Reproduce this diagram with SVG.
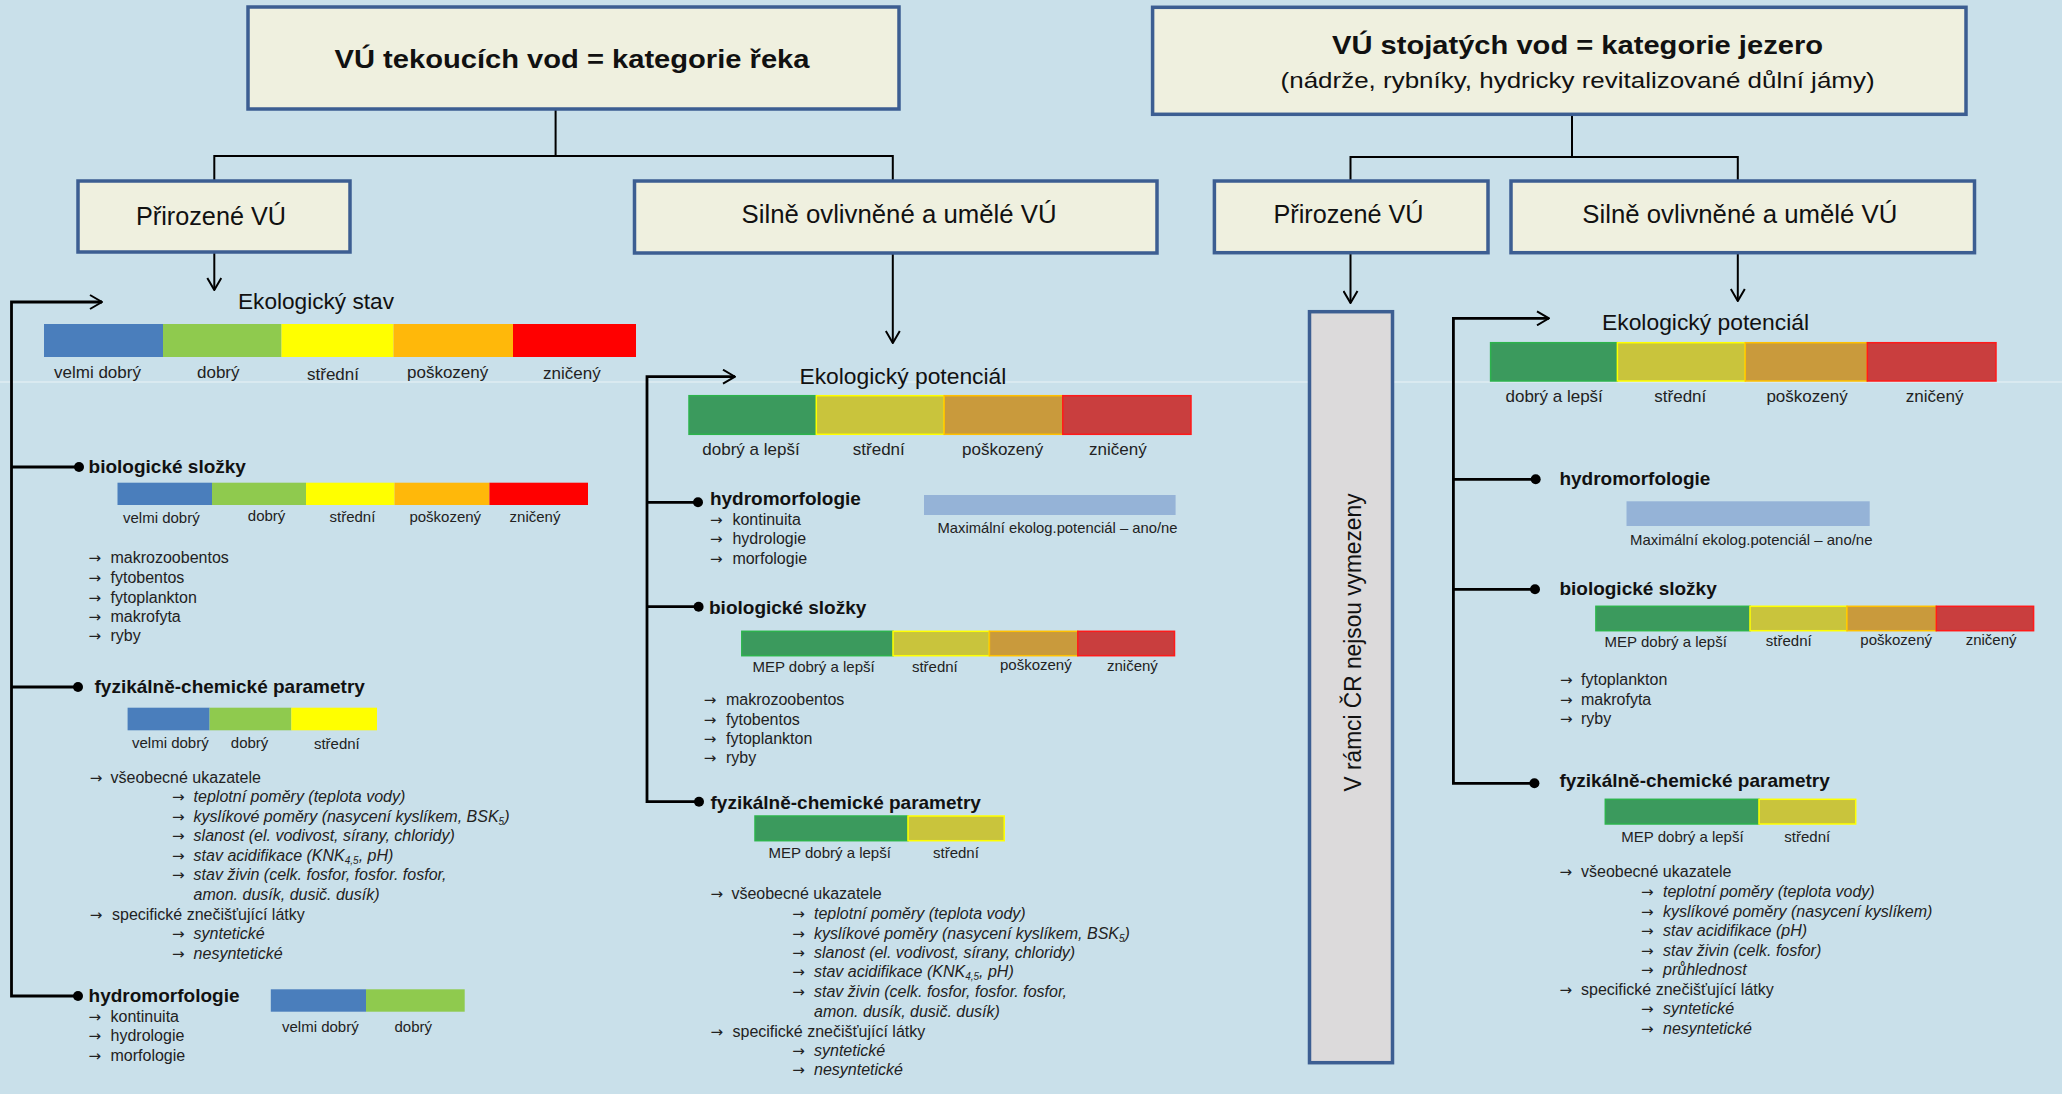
<svg xmlns="http://www.w3.org/2000/svg" width="2062" height="1094" viewBox="0 0 2062 1094">
<defs>
<marker id="arr" viewBox="0 0 14 16" refX="13" refY="8" markerWidth="14" markerHeight="16" markerUnits="userSpaceOnUse" orient="auto">
<path d="M1,1 L13,8 L1,15" fill="none" stroke="#000" stroke-width="2"/>
</marker>
</defs>
<style>
text{font-family:"Liberation Sans",Arial,sans-serif;fill:#111}
.box{fill:#eff0df;stroke:#3c5e92;stroke-width:3.5}
.grey{fill:#dcdadb;stroke:#3c5e92;stroke-width:3.5}
.t1{font-size:25px;font-weight:bold}
.t2{font-size:22px}
.t3{font-size:25px}
.eko{font-size:22px}
.h{font-size:19px;font-weight:bold}
.lb{font-size:17px;fill:#222}
.ls{font-size:15px;fill:#222}
.li{font-size:16px;fill:#222}
.it{font-size:16px;font-style:italic;fill:#222}
.a{font-family:"DejaVu Sans",sans-serif;font-style:normal;font-size:15px}
.con{fill:none;stroke:#000;stroke-width:2}
.br{fill:none;stroke:#000;stroke-width:2.8}
.dot{fill:#000}
.sb{fill:#4a7ebc}
.sg{fill:#8fca4e}
.sy{fill:#ffff00}
.so{fill:#ffb80a}
.sr{fill:#ff0000}
.pg{fill:#3b9a5d;stroke:#2db34d;stroke-width:1.5}
.py{fill:#c9c43c;stroke:#ffff00;stroke-width:1.5}
.po{fill:#c99a3c;stroke:#ffc000;stroke-width:1.5}
.pr{fill:#c93e3e;stroke:#ff1a1a;stroke-width:1.5}
.mx{fill:#95b3d7}
</style>
<rect x="0" y="0" width="2062" height="1094" fill="#c9e0ea"/>
<line x1="0" y1="382" x2="2062" y2="382" stroke="#eaf3f6" stroke-width="1"/>

<g id="connectors">
<path class="con" d="M555.6,109 V156 M214.3,181 V156 H892.8 V181"/>
<path class="con" d="M1572,114 V157 M1350.5,181 V157 H1737.8 V181"/>
<line class="con" x1="214.3" y1="252" x2="214.3" y2="290" marker-end="url(#arr)"/>
<line class="con" x1="892.8" y1="253" x2="892.8" y2="343" marker-end="url(#arr)"/>
<line class="con" x1="1350.5" y1="253" x2="1350.5" y2="303" marker-end="url(#arr)"/>
<line class="con" x1="1737.8" y1="253" x2="1737.8" y2="301" marker-end="url(#arr)"/>
<path class="br" d="M78,996 H11.5 V302 H102" marker-end="url(#arr)"/>
<path class="br" d="M11.5,467 H79 M11.5,687 H78"/>
<circle class="dot" cx="79" cy="467" r="5"/>
<circle class="dot" cx="78" cy="687" r="5"/>
<circle class="dot" cx="78" cy="996" r="5"/>
<path class="br" d="M699,801.7 H647 V376.7 H735" marker-end="url(#arr)"/>
<path class="br" d="M647,502.3 H698 M647,606.7 H698.6"/>
<circle class="dot" cx="698" cy="502.3" r="5"/>
<circle class="dot" cx="698.6" cy="606.7" r="5"/>
<circle class="dot" cx="699" cy="801.7" r="5"/>
<path class="br" d="M1534.4,783.3 H1453.4 V318.3 H1549" marker-end="url(#arr)"/>
<path class="br" d="M1453.4,479.3 H1535.7 M1453.4,589.3 H1535"/>
<circle class="dot" cx="1535.7" cy="479.3" r="5"/>
<circle class="dot" cx="1535" cy="589.3" r="5"/>
<circle class="dot" cx="1534.4" cy="783.3" r="5"/>
</g>

<g id="title-reka">
<rect class="box" x="248" y="7" width="651" height="102"/>
<text class="t1" x="572" y="68" text-anchor="middle" textLength="475" lengthAdjust="spacingAndGlyphs">VÚ tekoucích vod = kategorie řeka</text>
</g>
<g id="title-jezero">
<rect class="box" x="1152.6" y="7.3" width="813.4" height="107"/>
<text class="t1" x="1577.5" y="54.3" text-anchor="middle" textLength="491" lengthAdjust="spacingAndGlyphs">VÚ stojatých vod = kategorie jezero</text>
<text class="t2" x="1577.6" y="88.3" text-anchor="middle" textLength="594" lengthAdjust="spacingAndGlyphs">(nádrže, rybníky, hydricky revitalizované důlní jámy)</text>
</g>
<g id="reka-prirozene">
<rect class="box" x="78" y="181" width="272" height="71"/>
<text class="t3" x="211" y="225" text-anchor="middle" textLength="150" lengthAdjust="spacingAndGlyphs">Přirozené VÚ</text>
</g>
<g id="reka-silne">
<rect class="box" x="634.5" y="181" width="522.5" height="72"/>
<text class="t3" x="899" y="222.7" text-anchor="middle" textLength="315" lengthAdjust="spacingAndGlyphs">Silně ovlivněné a umělé VÚ</text>
</g>
<g id="jezero-prirozene">
<rect class="box" x="1214.4" y="181" width="273.6" height="71.7"/>
<text class="t3" x="1348.5" y="222.7" text-anchor="middle" textLength="150" lengthAdjust="spacingAndGlyphs">Přirozené VÚ</text>
</g>
<g id="jezero-silne">
<rect class="box" x="1511" y="181" width="463.5" height="71.7"/>
<text class="t3" x="1739.8" y="222.7" text-anchor="middle" textLength="315" lengthAdjust="spacingAndGlyphs">Silně ovlivněné a umělé VÚ</text>
</g>

<g id="reka-stav">
<text class="eko" x="238" y="309" textLength="156" lengthAdjust="spacingAndGlyphs">Ekologický stav</text>
<rect class="sb" x="44" y="324" width="119" height="33"/>
<rect class="sg" x="163" y="324" width="118.5" height="33"/>
<rect class="sy" x="281.5" y="324" width="112" height="33"/>
<rect class="so" x="393.5" y="324" width="119.5" height="33"/>
<rect class="sr" x="513" y="324" width="123" height="33"/>
<text class="lb" x="54" y="378">velmi dobrý</text>
<text class="lb" x="197" y="378">dobrý</text>
<text class="lb" x="307" y="380">střední</text>
<text class="lb" x="407" y="378">poškozený</text>
<text class="lb" x="543" y="379">zničený</text>
</g>

<g id="reka-bio">
<text class="h" x="88.6" y="473">biologické složky</text>
<rect class="sb" x="117.5" y="482.7" width="94.5" height="22.3"/>
<rect class="sg" x="212" y="482.7" width="94" height="22.3"/>
<rect class="sy" x="306" y="482.7" width="88.5" height="22.3"/>
<rect class="so" x="394.5" y="482.7" width="94.9" height="22.3"/>
<rect class="sr" x="489.4" y="482.7" width="98.6" height="22.3"/>
<text class="ls" x="123" y="523">velmi dobrý</text>
<text class="ls" x="247.8" y="520.7">dobrý</text>
<text class="ls" x="329.5" y="521.5">střední</text>
<text class="ls" x="409.4" y="521.5">poškozený</text>
<text class="ls" x="509.6" y="521.5">zničený</text>
<text class="li" y="563.3"><tspan class="a" x="88.6">→</tspan><tspan x="110.5">makrozoobentos</tspan></text>
<text class="li" y="582.7"><tspan class="a" x="88.6">→</tspan><tspan x="110.5">fytobentos</tspan></text>
<text class="li" y="602.7"><tspan class="a" x="88.6">→</tspan><tspan x="110.5">fytoplankton</tspan></text>
<text class="li" y="622"><tspan class="a" x="88.6">→</tspan><tspan x="110.5">makrofyta</tspan></text>
<text class="li" y="641"><tspan class="a" x="88.6">→</tspan><tspan x="110.5">ryby</tspan></text>
</g>

<g id="reka-fyz">
<text class="h" x="94.5" y="693">fyzikálně-chemické parametry</text>
<rect class="sb" x="127.6" y="707.7" width="82" height="22.6"/>
<rect class="sg" x="209.6" y="707.7" width="81.7" height="22.6"/>
<rect class="sy" x="291.3" y="707.7" width="85.7" height="22.6"/>
<text class="ls" x="132" y="748">velmi dobrý</text>
<text class="ls" x="230.8" y="748">dobrý</text>
<text class="ls" x="313.9" y="748.7">střední</text>
<text class="li" y="783"><tspan class="a" x="89.7">→</tspan><tspan x="110.5">všeobecné ukazatele</tspan></text>
<text class="it" y="802.3"><tspan class="a" x="172">→</tspan><tspan x="193.6">teplotní poměry (teplota vody)</tspan></text>
<text class="it" y="822"><tspan class="a" x="172">→</tspan><tspan x="193.6">kyslíkové poměry (nasycení kyslíkem, BSK</tspan><tspan font-size="10" dy="3">5</tspan><tspan dy="-3">)</tspan></text>
<text class="it" y="841.3"><tspan class="a" x="172">→</tspan><tspan x="193.6">slanost (el. vodivost, sírany, chloridy)</tspan></text>
<text class="it" y="861"><tspan class="a" x="172">→</tspan><tspan x="193.6">stav acidifikace (KNK</tspan><tspan font-size="10" dy="3">4,5</tspan><tspan dy="-3">, pH)</tspan></text>
<text class="it" y="880.3"><tspan class="a" x="172">→</tspan><tspan x="193.6">stav živin (celk. fosfor, fosfor. fosfor,</tspan></text>
<text class="it" x="193.6" y="900">amon. dusík, dusič. dusík)</text>
<text class="li" y="919.7"><tspan class="a" x="89.7">→</tspan><tspan x="112">specifické znečišťující látky</tspan></text>
<text class="it" y="939"><tspan class="a" x="172">→</tspan><tspan x="193.6">syntetické</tspan></text>
<text class="it" y="958.7"><tspan class="a" x="172">→</tspan><tspan x="193.6">nesyntetické</tspan></text>
</g>

<g id="reka-hydro">
<text class="h" x="88.6" y="1002">hydromorfologie</text>
<text class="li" y="1022"><tspan class="a" x="88.6">→</tspan><tspan x="110.5">kontinuita</tspan></text>
<text class="li" y="1041.3"><tspan class="a" x="88.6">→</tspan><tspan x="110.5">hydrologie</tspan></text>
<text class="li" y="1061"><tspan class="a" x="88.6">→</tspan><tspan x="110.5">morfologie</tspan></text>
<rect class="sb" x="270.8" y="989.3" width="95.2" height="22.4"/>
<rect class="sg" x="366" y="989.3" width="98.7" height="22.4"/>
<text class="ls" x="282" y="1032">velmi dobrý</text>
<text class="ls" x="394.5" y="1032">dobrý</text>
</g>

<g id="silne-reka-potencial">
<text class="eko" x="799.4" y="384.3" textLength="207" lengthAdjust="spacingAndGlyphs">Ekologický potenciál</text>
<rect class="pg" x="689" y="395.7" width="127.3" height="38.6"/>
<rect class="py" x="816.3" y="395.7" width="127.9" height="38.6"/>
<rect class="po" x="944.2" y="395.7" width="118.6" height="38.6"/>
<rect class="pr" x="1062.8" y="395.7" width="128.2" height="38.6"/>
<text class="lb" x="702.3" y="455">dobrý a lepší</text>
<text class="lb" x="852.8" y="455">střední</text>
<text class="lb" x="962" y="455">poškozený</text>
<text class="lb" x="1089" y="455">zničený</text>
</g>

<g id="silne-reka-hydro">
<text class="h" x="709.9" y="505">hydromorfologie</text>
<text class="li" y="525"><tspan class="a" x="710">→</tspan><tspan x="732.4">kontinuita</tspan></text>
<text class="li" y="544.3"><tspan class="a" x="710">→</tspan><tspan x="732.4">hydrologie</tspan></text>
<text class="li" y="564"><tspan class="a" x="710">→</tspan><tspan x="732.4">morfologie</tspan></text>
<rect class="mx" x="924" y="495" width="251.6" height="20"/>
<text class="ls" x="937.5" y="533.3" textLength="240" lengthAdjust="spacingAndGlyphs">Maximální ekolog.potenciál – ano/ne</text>
</g>

<g id="silne-reka-bio">
<text class="h" x="709" y="614">biologické složky</text>
<rect class="pg" x="741.8" y="631.3" width="151.2" height="24.4"/>
<rect class="py" x="893" y="631.3" width="96.4" height="24.4"/>
<rect class="po" x="989.4" y="631.3" width="88.4" height="24.4"/>
<rect class="pr" x="1077.8" y="631.3" width="96.7" height="24.4"/>
<text class="ls" x="752.4" y="671.7">MEP  dobrý a lepší</text>
<text class="ls" x="911.9" y="671.7">střední</text>
<text class="ls" x="1000" y="670">poškozený</text>
<text class="ls" x="1107" y="671">zničený</text>
<text class="li" y="705"><tspan class="a" x="703.8">→</tspan><tspan x="726">makrozoobentos</tspan></text>
<text class="li" y="725"><tspan class="a" x="703.8">→</tspan><tspan x="726">fytobentos</tspan></text>
<text class="li" y="744.3"><tspan class="a" x="703.8">→</tspan><tspan x="726">fytoplankton</tspan></text>
<text class="li" y="763.3"><tspan class="a" x="703.8">→</tspan><tspan x="726">ryby</tspan></text>
</g>

<g id="silne-reka-fyz">
<text class="h" x="710.5" y="809">fyzikálně-chemické parametry</text>
<rect class="pg" x="755" y="816" width="153" height="24.7"/>
<rect class="py" x="908" y="816" width="96.2" height="24.7"/>
<text class="ls" x="768.6" y="857.7">MEP  dobrý a lepší</text>
<text class="ls" x="933" y="857.7">střední</text>
<text class="li" y="899.3"><tspan class="a" x="710.5">→</tspan><tspan x="731.4">všeobecné ukazatele</tspan></text>
<text class="it" y="919"><tspan class="a" x="792.2">→</tspan><tspan x="814">teplotní poměry (teplota vody)</tspan></text>
<text class="it" y="939"><tspan class="a" x="792.2">→</tspan><tspan x="814">kyslíkové poměry (nasycení kyslíkem, BSK</tspan><tspan font-size="10" dy="3">5</tspan><tspan dy="-3">)</tspan></text>
<text class="it" y="958.3"><tspan class="a" x="792.2">→</tspan><tspan x="814">slanost (el. vodivost, sírany, chloridy)</tspan></text>
<text class="it" y="977.3"><tspan class="a" x="792.2">→</tspan><tspan x="814">stav acidifikace (KNK</tspan><tspan font-size="10" dy="3">4,5</tspan><tspan dy="-3">, pH)</tspan></text>
<text class="it" y="997.3"><tspan class="a" x="792.2">→</tspan><tspan x="814">stav živin (celk. fosfor, fosfor. fosfor,</tspan></text>
<text class="it" x="814" y="1016.7">amon. dusík, dusič. dusík)</text>
<text class="li" y="1036.7"><tspan class="a" x="710.5">→</tspan><tspan x="732.5">specifické znečišťující látky</tspan></text>
<text class="it" y="1056"><tspan class="a" x="792.2">→</tspan><tspan x="814">syntetické</tspan></text>
<text class="it" y="1075"><tspan class="a" x="792.2">→</tspan><tspan x="814">nesyntetické</tspan></text>
</g>

<g id="jezero-prirozene-pozn">
<rect class="grey" x="1309.5" y="311.7" width="83" height="751"/>
<text transform="translate(1361,642.5) rotate(-90)" text-anchor="middle" font-size="23" textLength="298" lengthAdjust="spacingAndGlyphs">V rámci ČR nejsou vymezeny</text>
</g>

<g id="jezero-potencial">
<text class="eko" x="1602" y="330" textLength="207" lengthAdjust="spacingAndGlyphs">Ekologický potenciál</text>
<rect class="pg" x="1490.6" y="342.7" width="126.8" height="38.3"/>
<rect class="py" x="1617.4" y="342.7" width="127.9" height="38.3"/>
<rect class="po" x="1745.3" y="342.7" width="122" height="38.3"/>
<rect class="pr" x="1867.3" y="342.7" width="128.7" height="38.3"/>
<text class="lb" x="1505.5" y="401.7">dobrý a lepší</text>
<text class="lb" x="1654.3" y="401.7">střední</text>
<text class="lb" x="1766.4" y="402">poškozený</text>
<text class="lb" x="1905.8" y="402">zničený</text>
</g>

<g id="jezero-hydro">
<text class="h" x="1559.4" y="485">hydromorfologie</text>
<rect class="mx" x="1626.5" y="501.3" width="243.2" height="24.7"/>
<text class="ls" x="1630" y="545" textLength="242.5" lengthAdjust="spacingAndGlyphs">Maximální ekolog.potenciál – ano/ne</text>
</g>

<g id="jezero-bio">
<text class="h" x="1559.4" y="595">biologické složky</text>
<rect class="pg" x="1595.9" y="606.3" width="154.1" height="24.4"/>
<rect class="py" x="1750" y="606.3" width="97" height="24.4"/>
<rect class="po" x="1847" y="606.3" width="89.3" height="24.4"/>
<rect class="pr" x="1936.3" y="606.3" width="97.3" height="24.4"/>
<text class="ls" x="1604.6" y="646.7">MEP  dobrý a lepší</text>
<text class="ls" x="1765.8" y="646">střední</text>
<text class="ls" x="1860.3" y="645">poškozený</text>
<text class="ls" x="1965.7" y="645">zničený</text>
<text class="li" y="685"><tspan class="a" x="1560">→</tspan><tspan x="1581">fytoplankton</tspan></text>
<text class="li" y="704.5"><tspan class="a" x="1560">→</tspan><tspan x="1581">makrofyta</tspan></text>
<text class="li" y="723.5"><tspan class="a" x="1560">→</tspan><tspan x="1581">ryby</tspan></text>
</g>

<g id="jezero-fyz">
<text class="h" x="1559.4" y="786.7">fyzikálně-chemické parametry</text>
<rect class="pg" x="1605.3" y="799.3" width="153.7" height="24.7"/>
<rect class="py" x="1759" y="799.3" width="96.7" height="24.7"/>
<text class="ls" x="1621.3" y="841.7">MEP  dobrý a lepší</text>
<text class="ls" x="1784.3" y="841.7">střední</text>
<text class="li" y="877.3"><tspan class="a" x="1559.4">→</tspan><tspan x="1581">všeobecné ukazatele</tspan></text>
<text class="it" y="897.3"><tspan class="a" x="1641">→</tspan><tspan x="1663">teplotní poměry (teplota vody)</tspan></text>
<text class="it" y="916.7"><tspan class="a" x="1641">→</tspan><tspan x="1663">kyslíkové poměry (nasycení kyslíkem)</tspan></text>
<text class="it" y="936"><tspan class="a" x="1641">→</tspan><tspan x="1663">stav acidifikace (pH)</tspan></text>
<text class="it" y="955.7"><tspan class="a" x="1641">→</tspan><tspan x="1663">stav živin (celk. fosfor)</tspan></text>
<text class="it" y="975"><tspan class="a" x="1641">→</tspan><tspan x="1663">průhlednost</tspan></text>
<text class="li" y="995"><tspan class="a" x="1559.4">→</tspan><tspan x="1581">specifické znečišťující látky</tspan></text>
<text class="it" y="1014.3"><tspan class="a" x="1641">→</tspan><tspan x="1663">syntetické</tspan></text>
<text class="it" y="1034"><tspan class="a" x="1641">→</tspan><tspan x="1663">nesyntetické</tspan></text>
</g>
</svg>
